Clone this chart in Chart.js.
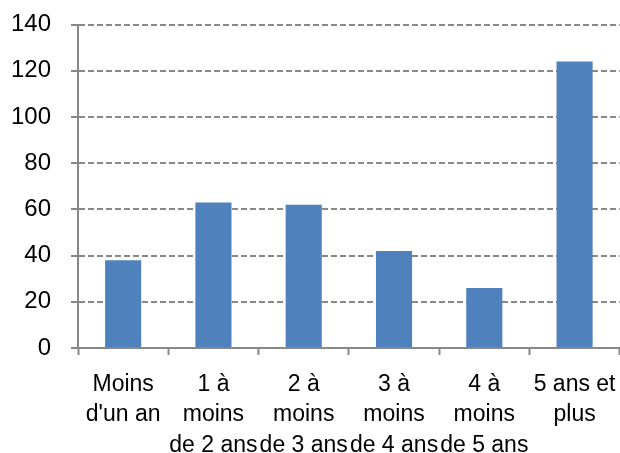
<!DOCTYPE html>
<html>
<head>
<meta charset="utf-8">
<script src="https://cdn.jsdelivr.net/npm/chart.js@4/dist/chart.umd.min.js"></script>
<style>
html,body{margin:0;padding:0;background:#fff;overflow:hidden;width:620px;height:453px;}
canvas{display:block;}
</style>
</head>
<body>
<canvas id="c" width="630" height="453"></canvas>
<script>
const categories = [
  ["Moins", "d'un an"],
  ["1 à", "moins", "de 2 ans"],
  ["2 à", "moins", "de 3 ans"],
  ["3 à", "moins", "de 4 ans"],
  ["4 à", "moins", "de 5 ans"],
  ["5 ans et", "plus"]
];
const values = [38, 63, 62, 42, 26, 124];
const yMin = 0, yMax = 140, yStep = 20;

const FONT = {family: "'Liberation Sans', Arial, sans-serif", size: 23, lineHeight: 1.33};
const YFONT = {family: "'Liberation Sans', Arial, sans-serif", size: 24, lineHeight: 0.2};
const GRID = '#888888';

new Chart(document.getElementById('c'), {
  type: 'bar',
  data: {
    labels: categories,
    datasets: [{
      data: values,
      backgroundColor: '#4F81BD',
      borderWidth: 0,
      barPercentage: 0.8,
      categoryPercentage: 0.5
    }]
  },
  options: {
    responsive: false,
    animation: false,
    layout: {padding: {top: 24.5, right: 6, left: 0, bottom: 0}},
    plugins: {legend: {display: false}, tooltip: {enabled: false}},
    scales: {
      x: {
        grid: {
          offset: true,
          drawOnChartArea: false,
          drawTicks: true,
          tickLength: 7,
          tickColor: GRID,
          tickWidth: 2
        },
        border: {display: true, color: GRID, width: 2},
        ticks: {
          color: '#000',
          font: FONT,
          padding: 14,
          maxRotation: 0,
          minRotation: 0,
          autoSkip: false
        },
        afterFit: (s) => { s.height = 105; }
      },
      y: {
        min: yMin,
        max: yMax,
        grid: {
          color: GRID,
          lineWidth: 2,
          tickBorderDash: [1, 0],
          tickLength: 7,
          tickColor: GRID,
          tickWidth: 2
        },
        border: {display: true, color: GRID, width: 2, dash: [6, 3]},
        ticks: {
          stepSize: yStep,
          color: '#000',
          font: YFONT,
          padding: 20
        },
        afterFit: (s) => { s.width = 78; }
      }
    }
  }
});
</script>
</body>
</html>
